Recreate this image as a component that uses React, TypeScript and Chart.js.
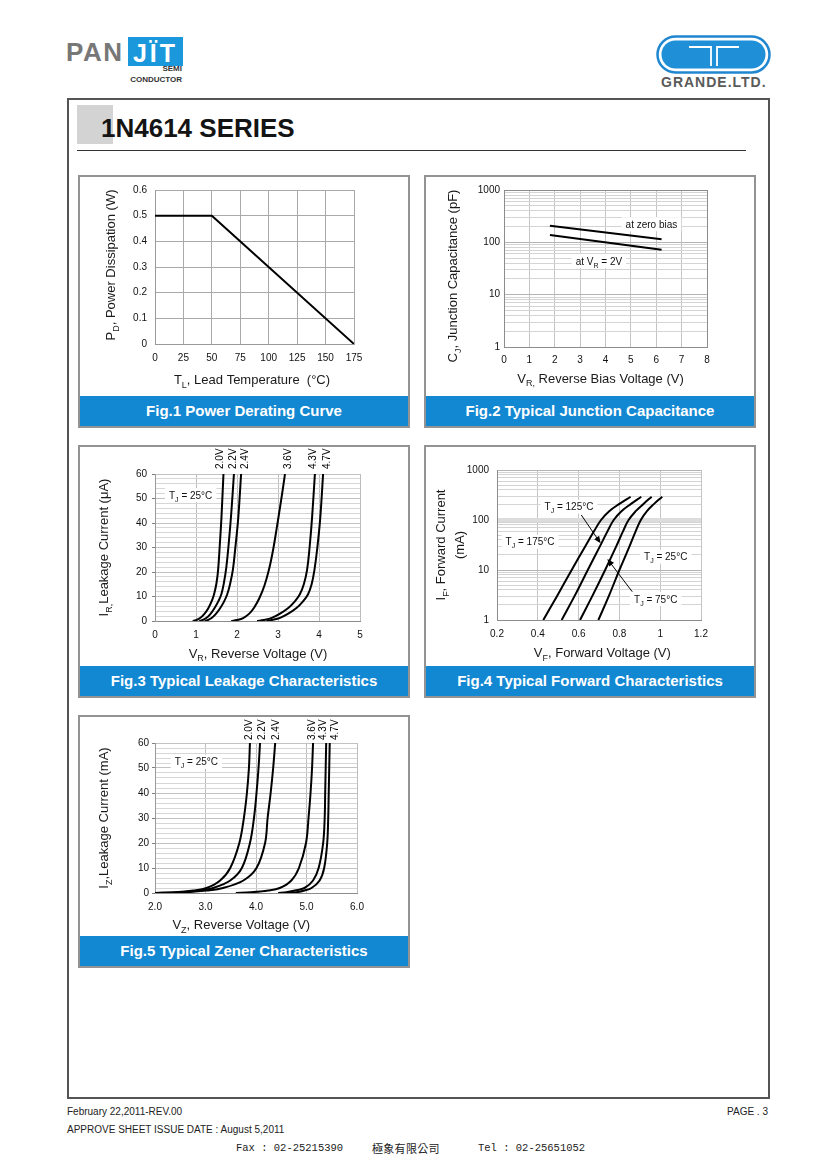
import React, { useEffect, useRef } from 'react';
import { Chart, registerables } from 'chart.js';

Chart.register(...registerables);

const FONT = '"Liberation Sans", Arial, Helvetica, sans-serif';

/* ---------------- Fig.1 Power Derating Curve ---------------- */
const fig1LeadTempC = [0, 50, 175];
const fig1PowerW = [0.5, 0.5, 0];

/* ---------------- Fig.2 Typical Junction Capacitance ---------------- */
const fig2BiasV = [1.81, 6.21];
const fig2ZeroBiasPF = [208, 115];
const fig2At2VPF = [138, 72.5];
const fig2NoteX = [5.81, 3.74];
const fig2NoteY = [222, 44.1];

/* shared log grid (1 … 1000) */
const logGridValues = [1, 2, 3, 4, 5, 6, 7, 8, 9, 10, 20, 30, 40, 50, 60, 70, 80, 90, 100, 200, 300, 400, 500, 600, 700, 800, 900, 1000];
const logLabelValues = [1, 10, 100, 1000];

/* ---------------- Fig.3 Typical Leakage Characteristics ---------------- */
const fig3Names = ['2.0V', '2.2V', '2.4V', '3.6V', '4.3V', '4.7V'];
const fig3NameX = [1.58, 1.9, 2.21, 3.26, 3.85, 4.2];
const leak20V_V = [0.92, 1.0, 1.1, 1.2, 1.3, 1.4, 1.45, 1.5, 1.54, 1.58, 1.62, 1.67];
const leak20V_uA = [0, 0.3, 1.2, 2.8, 5.2, 8.8, 11.5, 15.5, 21, 31, 42, 60];
const leak22V_V = [1.08, 1.15, 1.25, 1.35, 1.45, 1.55, 1.62, 1.68, 1.74, 1.8, 1.86, 1.925];
const leak22V_uA = [0, 0.3, 1.2, 2.8, 5.2, 8.2, 11, 15.5, 22, 32, 44, 60];
const leak24V_V = [1.21, 1.28, 1.38, 1.48, 1.58, 1.68, 1.76, 1.83, 1.9, 1.96, 2.03, 2.1];
const leak24V_uA = [0, 0.3, 1.2, 2.8, 5, 7.8, 10.8, 15, 21, 30, 42, 60];
const leak36V_V = [1.86, 2.0, 2.15, 2.3, 2.42, 2.55, 2.67, 2.78, 2.88, 2.97, 3.05, 3.11, 3.17];
const leak36V_uA = [0, 0.4, 1.2, 3, 5.5, 9.5, 14.5, 21, 29, 38, 46.5, 53, 60];
const leak43V_V = [2.49, 2.65, 2.85, 3.05, 3.25, 3.4, 3.53, 3.63, 3.71, 3.77, 3.83, 3.9];
const leak43V_uA = [0, 0.4, 1.3, 3, 5.3, 7.8, 10.8, 15, 21, 30, 42, 60];
const leak47V_V = [2.72, 2.85, 3.05, 3.25, 3.45, 3.6, 3.73, 3.82, 3.89, 3.96, 4.03, 4.1];
const leak47V_uA = [0, 0.4, 1.3, 3, 5.3, 7.8, 10.8, 15, 21, 30, 42, 60];
const fig3NoteXY = [0.87, 51.4];

/* ---------------- Fig.4 Typical Forward Characteristics ---------------- */
const fwdCurrentMA = [1, 3, 10, 30, 60, 100, 150, 210, 292];
const fwd175C_V = [0.427, 0.494, 0.566, 0.633, 0.676, 0.71, 0.75, 0.8, 0.855];
const fwd125C_V = [0.517, 0.58, 0.645, 0.705, 0.742, 0.772, 0.81, 0.857, 0.907];
const fwd75C_V = [0.607, 0.667, 0.73, 0.785, 0.818, 0.845, 0.88, 0.918, 0.958];
const fwd25C_V = [0.697, 0.748, 0.8, 0.85, 0.88, 0.905, 0.935, 0.97, 1.01];
const fig4NoteTemps = ['125°C', '175°C', '25°C', '75°C'];
const fig4NoteX = [0.553, 0.362, 1.027, 0.978];
const fig4NoteY = [184, 36.8, 18.5, 2.63];
const fig4ArrowFrom = [[0.613, 126], [0.863, 3.68]];
const fig4ArrowTo = [[0.708, 34.2], [0.741, 16.6]];

/* ---------------- Fig.5 Typical Zener Characteristics ---------------- */
const fig5Names = ['2.0V', '2.2V', '2.4V', '3.6V', '4.3V', '4.7V'];
const fig5NameX = [3.87, 4.12, 4.41, 5.11, 5.34, 5.56];
const zenerCurrentMA = [0, 0.3, 1, 2, 5, 10, 20, 30, 40, 50, 60];
const zener20V_V = [2.0, 2.4, 2.76, 3.02, 3.29, 3.49, 3.67, 3.76, 3.82, 3.86, 3.88];
const zener22V_V = [2.0, 2.5, 2.89, 3.15, 3.49, 3.72, 3.88, 3.96, 4.01, 4.05, 4.08];
const zener24V_V = [2.1, 2.6, 3.02, 3.35, 3.75, 4.01, 4.18, 4.23, 4.29, 4.34, 4.38];
const zener36V_V = [3.6, 3.9, 4.24, 4.47, 4.7, 4.85, 4.99, 5.04, 5.08, 5.11, 5.13];
const zener43V_V = [4.44, 4.6, 4.77, 4.96, 5.13, 5.24, 5.33, 5.36, 5.37, 5.38, 5.39];
const zener47V_V = [4.6, 4.8, 4.96, 5.1, 5.26, 5.35, 5.41, 5.43, 5.44, 5.45, 5.46];
const fig5NoteXY = [2.82, 52.5];

/* ---------------- helpers ---------------- */
type Part = [string, boolean?];
type Note = { x: number; y: number; parts: Part[]; box?: boolean };
type Arrow = { x1: number; y1: number; x2: number; y2: number };
type TopLabel = { x: number; text: string };
interface Decor {
  xTitle: Part[];
  xTitleDx: number;
  xTitleBase: number;
  yTitles: { parts: Part[]; dx: number }[];
  yTitleDy: number;
  notes?: Note[];
  arrows?: Arrow[];
  topLabels?: TopLabel[];
  topGap?: number;
}

const TJ = (rest: string): Part[] => [['T'], ['J', true], [rest]];

function drawRich(ctx: CanvasRenderingContext2D, parts: Part[], x: number, baseY: number, size: number, align: 'left' | 'center', color = '#1a1a1a') {
  const sub = Math.round(size * 0.7);
  const widths = parts.map(([t, s]) => {
    ctx.font = `${s ? sub : size}px ${FONT}`;
    return ctx.measureText(t).width;
  });
  const total = widths.reduce((a, b) => a + b, 0);
  let cx = align === 'center' ? x - total / 2 : x;
  ctx.textAlign = 'left';
  ctx.textBaseline = 'alphabetic';
  ctx.fillStyle = color;
  parts.forEach(([t, s], i) => {
    ctx.font = `${s ? sub : size}px ${FONT}`;
    ctx.fillText(t, cx, baseY + (s ? size * 0.3 : 0));
    cx += widths[i];
  });
  return total;
}

function richWidth(ctx: CanvasRenderingContext2D, parts: Part[], size: number) {
  const sub = Math.round(size * 0.7);
  let w = 0;
  parts.forEach(([t, s]) => {
    ctx.font = `${s ? sub : size}px ${FONT}`;
    w += ctx.measureText(t).width;
  });
  return w;
}

function decorPlugin(d: Decor) {
  return {
    id: 'decor',
    beforeDatasetsDraw(chart: any) {
      const { ctx, scales } = chart;
      const xs = scales.x;
      const ys = scales.y;
      ctx.save();
      (d.notes || []).forEach((n) => {
        const px = xs.getPixelForValue(n.x);
        const py = ys.getPixelForValue(n.y);
        const w = richWidth(ctx, n.parts, 10);
        if (n.box !== false) {
          ctx.fillStyle = '#ffffff';
          ctx.fillRect(px - w / 2 - 4, py - 7, w + 8, 14);
        }
        drawRich(ctx, n.parts, px, py + 3.6, 10, 'center', '#111');
      });
      ctx.restore();
    },
    afterDraw(chart: any) {
      const { ctx, chartArea: a, scales } = chart;
      const xs = scales.x;
      const ys = scales.y;
      ctx.save();
      drawRich(ctx, d.xTitle, (a.left + a.right) / 2 + d.xTitleDx, a.bottom + d.xTitleBase, 13, 'center');
      const cy = (a.top + a.bottom) / 2 + d.yTitleDy;
      d.yTitles.forEach((t) => {
        ctx.save();
        ctx.translate(a.left + t.dx, cy);
        ctx.rotate(-Math.PI / 2);
        drawRich(ctx, t.parts, 0, 4.6, 13, 'center');
        ctx.restore();
      });
      (d.arrows || []).forEach((ar) => {
        const x1 = xs.getPixelForValue(ar.x1);
        const y1 = ys.getPixelForValue(ar.y1);
        const x2 = xs.getPixelForValue(ar.x2);
        const y2 = ys.getPixelForValue(ar.y2);
        const ang = Math.atan2(y2 - y1, x2 - x1);
        const L = 7;
        const W = 3;
        ctx.strokeStyle = '#000';
        ctx.lineWidth = 1;
        ctx.beginPath();
        ctx.moveTo(x1, y1);
        ctx.lineTo(x2 - L * 0.6 * Math.cos(ang), y2 - L * 0.6 * Math.sin(ang));
        ctx.stroke();
        ctx.fillStyle = '#000';
        ctx.beginPath();
        ctx.moveTo(x2, y2);
        ctx.lineTo(x2 - L * Math.cos(ang) + W * Math.sin(ang), y2 - L * Math.sin(ang) - W * Math.cos(ang));
        ctx.lineTo(x2 - L * Math.cos(ang) - W * Math.sin(ang), y2 - L * Math.sin(ang) + W * Math.cos(ang));
        ctx.closePath();
        ctx.fill();
      });
      (d.topLabels || []).forEach((tl) => {
        const px = xs.getPixelForValue(tl.x);
        ctx.save();
        ctx.translate(px, a.top - (d.topGap || 4));
        ctx.rotate(-Math.PI / 2);
        ctx.font = `10px ${FONT}`;
        ctx.fillStyle = '#000';
        ctx.textAlign = 'left';
        ctx.textBaseline = 'middle';
        ctx.fillText(tl.text, 0, 0);
        ctx.restore();
      });
      ctx.restore();
    },
  };
}

function lineDs(xs: number[], ys: number[], tension: number) {
  return {
    data: xs.map((x, i) => ({ x, y: ys[i] })),
    borderColor: '#000',
    backgroundColor: '#000',
    borderWidth: 2,
    pointRadius: 0,
    showLine: true,
    fill: false,
    tension,
    cubicInterpolationMode: 'default',
    borderCapStyle: 'butt',
    borderJoinStyle: 'round',
  };
}

interface AxisCfg {
  log?: boolean;
  min: number;
  max: number;
  step?: number;
  values?: number[];
  pad: number;
  label: (v: number) => string;
  grid: (v: number) => string;
  gridWidth?: (v: number) => number;
  border: string;
  tickLen?: number;
  tickShow?: (v: number) => boolean;
}

function makeAxis(kind: 'x' | 'y', a: AxisCfg, size: number) {
  const ax: any = {
    type: a.log ? 'logarithmic' : 'linear',
    position: kind === 'x' ? 'bottom' : 'left',
    min: a.min,
    max: a.max,
    afterFit: (s: any) => {
      if (kind === 'x') s.height = size;
      else s.width = size;
      s.paddingLeft = 0;
      s.paddingRight = 0;
      s.paddingTop = 0;
      s.paddingBottom = 0;
    },
    grid: {
      color: (c: any) => a.grid(c.tick ? c.tick.value : NaN),
      lineWidth: (c: any) => (a.gridWidth ? a.gridWidth(c.tick ? c.tick.value : NaN) : 1),
      drawTicks: !!a.tickLen,
      tickLength: a.tickLen || 0,
      tickColor: (c: any) => (a.tickShow && c.tick && a.tickShow(c.tick.value) ? '#808080' : 'rgba(0,0,0,0)'),
    },
    border: { display: true, color: a.border, width: 1 },
    ticks: {
      autoSkip: false,
      maxRotation: 0,
      minRotation: 0,
      padding: a.pad,
      color: '#111',
      font: { family: FONT, size: 10 },
      callback: (v: any) => a.label(Number(v)),
    },
  };
  if (a.step) ax.ticks.stepSize = a.step;
  if (a.values) {
    const vals = a.values;
    ax.afterBuildTicks = (s: any) => {
      s.ticks = vals.map((v) => ({ value: v }));
    };
  }
  return ax;
}

const CW = 328;
const CH = 219;

function baseConfig(o: { area: { l: number; t: number; r: number; b: number }; datasets: any[]; x: AxisCfg; y: AxisCfg; decor: Decor }) {
  const yW = 34;
  const xH = 22;
  return {
    type: 'scatter',
    data: { datasets: o.datasets },
    options: {
      animation: false,
      responsive: false,
      maintainAspectRatio: false,
      events: [],
      layout: { padding: { left: o.area.l - yW, top: o.area.t, right: CW - o.area.r, bottom: CH - o.area.b - xH } },
      plugins: { legend: { display: false }, tooltip: { enabled: false } },
      scales: { x: makeAxis('x', o.x, xH), y: makeAxis('y', o.y, yW) },
    },
    plugins: [decorPlugin(o.decor)],
  };
}

const fmt = (v: number) => String(Math.round(v * 100) / 100);
const tens = (v: number) => (Math.abs(Math.round(v) % 10) === 0 ? String(Math.round(v)) : '');
const isTen = (v: number) => Math.abs(Math.round(v) % 10) === 0;

function fig1Config() {
  return baseConfig({
    area: { l: 75, t: 13, r: 274, b: 167 },
    datasets: [lineDs(fig1LeadTempC, fig1PowerW, 0)],
    x: { min: 0, max: 175, step: 25, pad: 8, label: fmt, grid: () => '#a9a9a9', border: '#9a9a9a' },
    y: { min: 0, max: 0.6, step: 0.1, pad: 8, label: fmt, grid: () => '#a9a9a9', border: '#9a9a9a' },
    decor: {
      xTitle: [['T'], ['L', true], [', Lead Temperature  (°C)']],
      xTitleDx: -2.5,
      xTitleBase: 40,
      yTitles: [{ parts: [['P'], ['D', true], [', Power Dissipation (W)']], dx: -45 }],
      yTitleDy: -2,
    },
  });
}

function fig2Config() {
  return baseConfig({
    area: { l: 78, t: 13, r: 281, b: 170 },
    datasets: [lineDs(fig2BiasV, fig2ZeroBiasPF, 0), lineDs(fig2BiasV, fig2At2VPF, 0)],
    x: { min: 0, max: 8, step: 1, pad: 7, label: fmt, grid: (v) => (v === 8 ? '#8c8c8c' : '#c4c4c4'), border: '#8c8c8c' },
    y: {
      log: true,
      min: 1,
      max: 1000,
      values: logGridValues,
      pad: 4,
      label: (v) => (logLabelValues.includes(v) ? String(v) : ''),
      grid: (v) => (v === 1000 ? '#8c8c8c' : logLabelValues.includes(v) ? '#b4b4b4' : '#d4d4d4'),
      border: '#8c8c8c',
    },
    decor: {
      xTitle: [['V'], ['R,', true], [' Reverse Bias Voltage (V)']],
      xTitleDx: -5,
      xTitleBase: 35.5,
      yTitles: [{ parts: [['C'], ['J', true], [', Junction Capacitance (pF)']], dx: -52 }],
      yTitleDy: 7.5,
      notes: [
        { x: fig2NoteX[0], y: fig2NoteY[0], parts: [['at zero bias']] },
        { x: fig2NoteX[1], y: fig2NoteY[1], parts: [['at V'], ['R', true], [' = 2V']] },
      ],
    },
  });
}

function fig3Config() {
  const t = 0.4;
  return baseConfig({
    area: { l: 75, t: 27, r: 280, b: 174 },
    datasets: [
      lineDs(leak20V_V, leak20V_uA, t),
      lineDs(leak22V_V, leak22V_uA, t),
      lineDs(leak24V_V, leak24V_uA, t),
      lineDs(leak36V_V, leak36V_uA, t),
      lineDs(leak43V_V, leak43V_uA, t),
      lineDs(leak47V_V, leak47V_uA, t),
    ],
    x: { min: 0, max: 5, step: 1, pad: 8, label: fmt, grid: () => '#bdbdbd', border: '#8c8c8c' },
    y: { min: 0, max: 60, step: 2, pad: 5, label: tens, grid: (v) => (isTen(v) ? '#c2c2c2' : '#d6d6d6'), border: '#9a9a9a', tickLen: 3, tickShow: isTen },
    decor: {
      xTitle: [['V'], ['R', true], [', Reverse Voltage (V)']],
      xTitleDx: 0.5,
      xTitleBase: 36.5,
      yTitles: [{ parts: [['I'], ['R,', true], ['Leakage Current (μA)']], dx: -52 }],
      yTitleDy: 0,
      notes: [{ x: fig3NoteXY[0], y: fig3NoteXY[1], parts: TJ(' = 25°C') }],
      topLabels: fig3Names.map((s, i) => ({ x: fig3NameX[i], text: s })),
      topGap: 5,
    },
  });
}

function fig4Config() {
  const t = 0.4;
  return baseConfig({
    area: { l: 71, t: 23, r: 275, b: 173 },
    datasets: [
      lineDs(fwd175C_V, fwdCurrentMA, t),
      lineDs(fwd125C_V, fwdCurrentMA, t),
      lineDs(fwd75C_V, fwdCurrentMA, t),
      lineDs(fwd25C_V, fwdCurrentMA, t),
    ],
    x: { min: 0.2, max: 1.2, step: 0.2, pad: 8, label: fmt, grid: () => '#c4c4c4', border: '#8c8c8c' },
    y: {
      log: true,
      min: 1,
      max: 1000,
      values: logGridValues,
      pad: 8,
      label: (v) => (logLabelValues.includes(v) ? String(v) : ''),
      grid: (v) => (v === 100 ? '#dcdcdc' : logLabelValues.includes(v) ? '#b4b4b4' : '#d4d4d4'),
      gridWidth: (v) => (v === 100 ? 4 : 1),
      border: '#8c8c8c',
    },
    decor: {
      xTitle: [['V'], ['F', true], [', Forward Voltage (V)']],
      xTitleDx: 3.3,
      xTitleBase: 37,
      yTitles: [
        { parts: [['I'], ['F', true], [', Forward Current']], dx: -56.3 },
        { parts: [['(mA)']], dx: -38 },
      ],
      yTitleDy: 0,
      notes: fig4NoteTemps.map((s, i) => ({ x: fig4NoteX[i], y: fig4NoteY[i], parts: TJ(' = ' + s) })),
      arrows: fig4ArrowFrom.map((f, i) => ({ x1: f[0], y1: f[1], x2: fig4ArrowTo[i][0], y2: fig4ArrowTo[i][1] })),
    },
  });
}

function fig5Config() {
  const t = 0.35;
  return baseConfig({
    area: { l: 75, t: 26, r: 277, b: 176 },
    datasets: [
      lineDs(zener20V_V, zenerCurrentMA, t),
      lineDs(zener22V_V, zenerCurrentMA, t),
      lineDs(zener24V_V, zenerCurrentMA, t),
      lineDs(zener36V_V, zenerCurrentMA, t),
      lineDs(zener43V_V, zenerCurrentMA, t),
      lineDs(zener47V_V, zenerCurrentMA, t),
    ],
    x: { min: 2, max: 6, step: 1, pad: 8, label: (v) => v.toFixed(1), grid: () => '#bdbdbd', border: '#8c8c8c' },
    y: { min: 0, max: 60, step: 2, pad: 3, label: tens, grid: (v) => (isTen(v) ? '#c2c2c2' : '#d6d6d6'), border: '#9a9a9a', tickLen: 3, tickShow: isTen },
    decor: {
      xTitle: [['V'], ['Z', true], [', Reverse Voltage (V)']],
      xTitleDx: -14.7,
      xTitleBase: 36,
      yTitles: [{ parts: [['I'], ['Z', true], [',Leakage Current (mA)']], dx: -52 }],
      yTitleDy: 0,
      notes: [{ x: fig5NoteXY[0], y: fig5NoteXY[1], parts: TJ(' = 25°C') }],
      topLabels: fig5Names.map((s, i) => ({ x: fig5NameX[i], text: s })),
      topGap: 3,
    },
  });
}

function Panel({ left, top, caption, config }: { left: number; top: number; caption: string; config: () => any }) {
  const ref = useRef<HTMLCanvasElement>(null);
  useEffect(() => {
    const chart = new Chart(ref.current as HTMLCanvasElement, config());
    return () => chart.destroy();
  }, []);
  return (
    <div
      style={{
        position: 'absolute',
        left,
        top,
        width: 332,
        height: 253,
        border: '2px solid #939393',
        boxSizing: 'border-box',
        background: '#fff',
      }}
    >
      <canvas ref={ref} width={CW} height={CH} style={{ position: 'absolute', left: 0, top: 0, width: CW, height: CH }} />
      <div
        style={{
          position: 'absolute',
          left: 0,
          bottom: 0,
          width: CW,
          height: 30,
          background: '#1388d2',
          color: '#fff',
          font: `bold 15px ${FONT}`,
          lineHeight: '30px',
          textAlign: 'center',
          whiteSpace: 'nowrap',
        }}
      >
        {caption}
      </div>
    </div>
  );
}

const abs = (left: number, top: number, extra: React.CSSProperties = {}): React.CSSProperties => ({
  position: 'absolute',
  left,
  top,
  whiteSpace: 'nowrap',
  ...extra,
});

export default function App() {
  return (
    <div style={{ position: 'absolute', left: 0, top: 0, width: 820, height: 1160, background: '#fff', fontFamily: FONT, overflow: 'hidden' }}>
      {/* PANJIT logo */}
      <div style={abs(66, 37, { font: `bold 26px ${FONT}`, color: '#777', letterSpacing: 1.5, lineHeight: '30px' })}>PAN</div>
      <div
        style={abs(128, 37, {
          width: 55,
          height: 29,
          background: '#1b98dc',
          color: '#fff',
          font: `bold 25px ${FONT}`,
          lineHeight: '33px',
          textAlign: 'center',
          letterSpacing: 3,
        })}
      >
        JÏT
      </div>
      <div style={abs(120, 65, { width: 62, textAlign: 'right', font: `bold 8px ${FONT}`, color: '#333', lineHeight: '8px' })}>SEMI</div>
      <div style={abs(120, 76, { width: 62, textAlign: 'right', font: `bold 8px ${FONT}`, color: '#333', lineHeight: '8px' })}>CONDUCTOR</div>

      {/* GRANDE logo */}
      <svg style={abs(656, 35)} width={116} height={40} viewBox="0 0 116 40">
        <rect x={1.5} y={1.5} width={112} height={36} rx={18} fill="#fff" stroke="#1f86cf" strokeWidth={2.5} />
        <rect x={5.5} y={5.5} width={104} height={28} rx={14} fill="#1f8fd8" />
        <path d="M33 12 H55 V31 M61 31 V12 H83" stroke="#fff" strokeWidth={1.8} fill="none" />
      </svg>
      <div style={abs(661, 74, { font: `bold 14px ${FONT}`, color: '#5a5a5a', letterSpacing: 1, lineHeight: '16px' })}>GRANDE.LTD.</div>

      {/* main frame */}
      <div style={abs(67, 98, { width: 703, height: 1001, border: '2px solid #555', boxSizing: 'border-box' })} />
      <div style={abs(77, 105, { width: 36, height: 39, background: '#d3d3d3' })} />
      <div style={abs(101, 115, { font: `bold 26px ${FONT}`, color: '#141414', lineHeight: '26px' })}>1N4614 SERIES</div>
      <div style={abs(77, 150, { width: 669, height: 1, background: '#333' })} />

      <Panel left={78} top={175} caption="Fig.1 Power Derating Curve" config={fig1Config} />
      <Panel left={424} top={175} caption="Fig.2 Typical Junction Capacitance" config={fig2Config} />
      <Panel left={78} top={445} caption="Fig.3 Typical Leakage Characteristics" config={fig3Config} />
      <Panel left={424} top={445} caption="Fig.4 Typical Forward Characteristics" config={fig4Config} />
      <Panel left={78} top={715} caption="Fig.5 Typical Zener Characteristics" config={fig5Config} />

      {/* footer */}
      <div style={abs(67, 1106, { font: `10px ${FONT}`, color: '#222', lineHeight: '12px' })}>February 22,2011-REV.00</div>
      <div style={abs(600, 1106, { width: 168, textAlign: 'right', font: `10px ${FONT}`, color: '#222', lineHeight: '12px' })}>PAGE . 3</div>
      <div style={abs(67, 1124, { font: `10px ${FONT}`, color: '#222', lineHeight: '12px' })}>APPROVE SHEET ISSUE DATE : August 5,2011</div>
      <div style={abs(236, 1141, { font: `10.5px "Liberation Mono", "DejaVu Sans Mono", monospace`, color: '#222', lineHeight: '14px' })}>Fax : 02-25215390</div>
      <div style={abs(372, 1141, { font: `11px "Noto Sans CJK TC", "Noto Sans CJK SC", sans-serif`, color: '#222', lineHeight: '14px', letterSpacing: 0.3 })}>極象有限公司</div>
      <div style={abs(478, 1141, { font: `10.5px "Liberation Mono", "DejaVu Sans Mono", monospace`, color: '#222', lineHeight: '14px' })}>Tel : 02-25651052</div>
    </div>
  );
}
